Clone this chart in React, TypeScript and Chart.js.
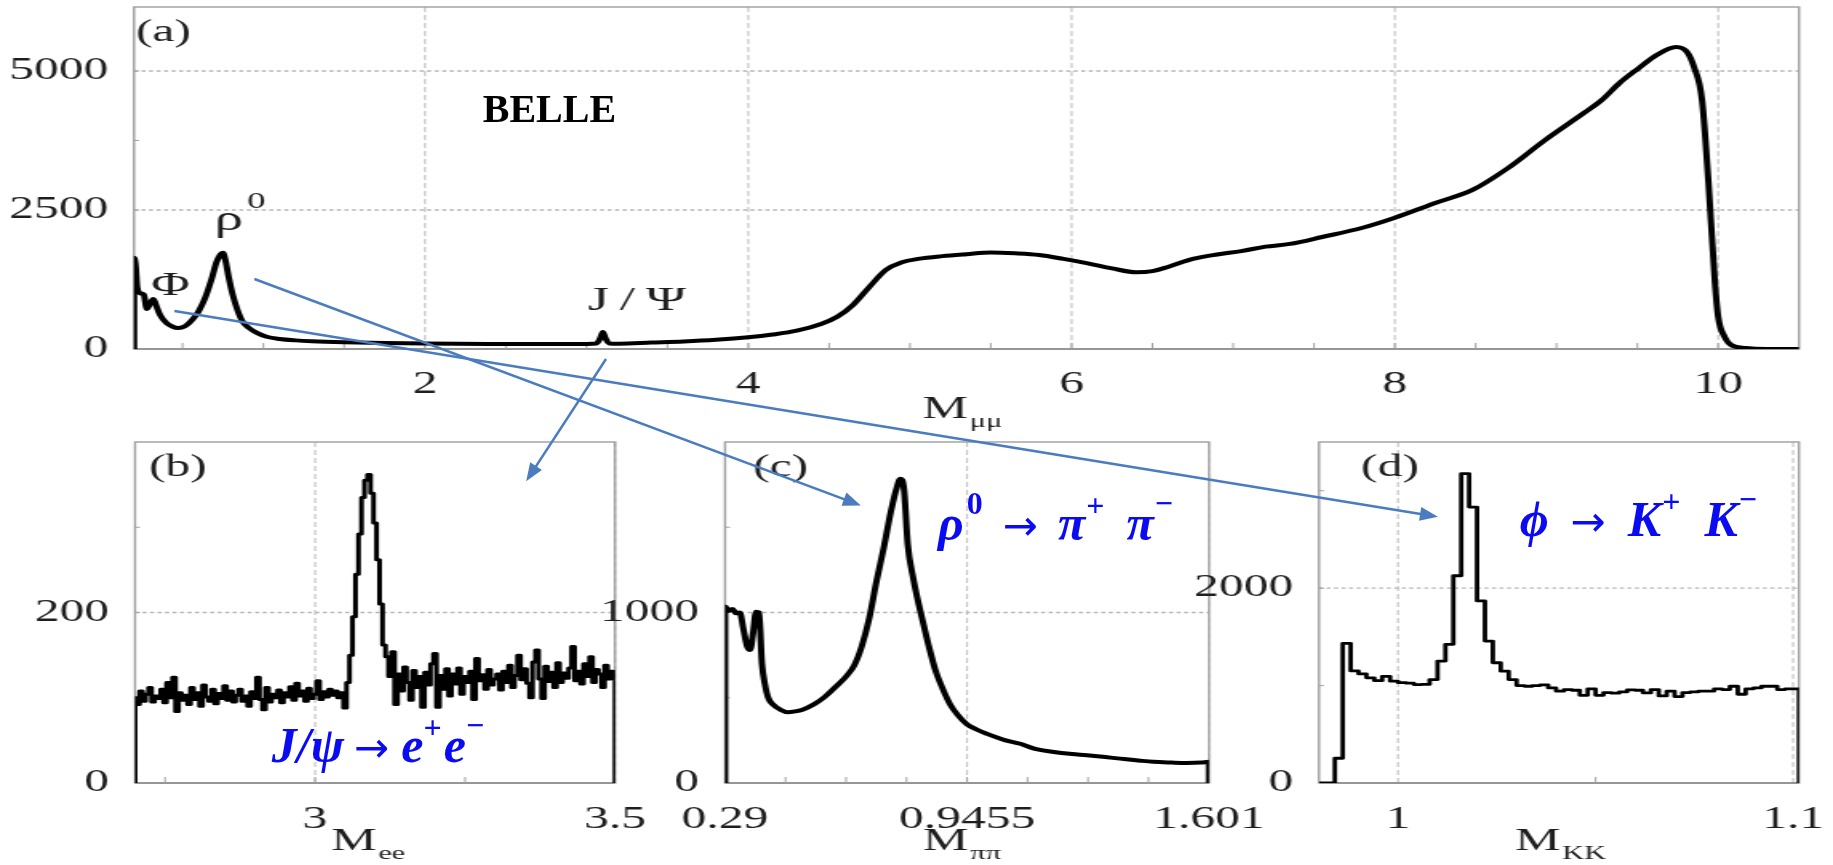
import React, { useEffect, useRef } from 'react';
import { Chart, registerables } from 'chart.js';

Chart.register(...registerables);

// ================= DATA =================
// Panel (a): M_mumu spectrum
const aMass = [0.2, 0.2, 0.21, 0.22, 0.24, 0.26, 0.28, 0.3, 0.32, 0.34, 0.36, 0.4, 0.44, 0.47, 0.5, 0.53, 0.56, 0.6, 0.64, 0.68, 0.71, 0.735, 0.75, 0.765, 0.785, 0.81, 0.84, 0.87, 0.91, 0.96, 1.02, 1.1, 1.2, 1.3, 1.5, 1.75, 2.0, 2.4, 2.8, 3.0, 3.06, 3.085, 3.1, 3.115, 3.14, 3.2, 3.4, 3.6, 3.8, 4.0, 4.15, 4.3, 4.45, 4.55, 4.65, 4.75, 4.85, 4.95, 5.05, 5.2, 5.35, 5.5, 5.65, 5.8, 5.95, 6.1, 6.25, 6.4, 6.5, 6.6, 6.75, 6.9, 7.05, 7.2, 7.35, 7.55, 7.8, 8.0, 8.25, 8.48, 8.7, 8.93, 9.17, 9.28, 9.39, 9.51, 9.62, 9.74, 9.81, 9.85, 9.9, 9.94, 9.98, 10.0, 10.04, 10.08, 10.17, 10.3, 10.5];
const aCounts = [0, 1640, 1500, 1100, 1000, 980, 720, 820, 900, 760, 620, 470, 400, 378, 390, 440, 525, 680, 920, 1260, 1560, 1700, 1730, 1600, 1300, 980, 700, 500, 380, 290, 220, 180, 155, 140, 122, 108, 100, 92, 90, 92, 100, 200, 305, 200, 100, 95, 115, 135, 165, 210, 260, 330, 450, 580, 800, 1120, 1420, 1560, 1620, 1670, 1705, 1735, 1720, 1690, 1620, 1540, 1450, 1380, 1400, 1480, 1620, 1700, 1760, 1840, 1890, 2014, 2180, 2360, 2626, 2860, 3255, 3759, 4245, 4478, 4784, 5054, 5288, 5430, 5330, 5072, 4478, 2986, 1187, 576, 216, 72, 18, 0, 0];

// Panel (b): M_ee histogram
const bFirstBin = 2.7;
const bBinWidth = 0.005;
const bCounts = [
  100, 92, 108, 96, 104, 112, 95, 102, 99, 110, 94, 118, 100, 124, 84, 106, 97, 103, 92, 112,
  98, 106, 90, 115, 101, 96, 110, 93, 105, 99, 114, 97, 108, 95, 103, 110, 96, 102, 90, 107,
  99, 124, 98, 86, 112, 95, 104, 100, 109, 94, 106, 101, 113, 97, 117, 102, 108, 96, 111, 99,
  104, 120, 98, 107, 101, 110, 103, 108, 100, 106, 88, 118, 150, 195, 245, 292, 335, 355, 362, 340,
  305, 262, 210, 162, 148, 125, 154, 92, 128, 108, 136, 118, 97, 132, 112, 125, 89, 130, 115, 140,
  152, 89, 126, 110, 134, 102, 128, 116, 135, 104, 125, 118, 131, 98, 146, 120, 127, 110, 133, 115,
  122, 128, 109, 131, 118, 138, 112, 126, 150, 121, 134, 117, 100, 142, 156, 122, 99, 137, 119, 130,
  112, 141, 118, 129, 123, 135, 160, 120, 131, 116, 140, 125, 148, 118, 133, 128, 112, 138, 122, 131,
  126
];

// Panel (c): M_pipi spectrum
const cMass = [0.29, 0.29, 0.3, 0.31, 0.32, 0.33, 0.34, 0.35, 0.358, 0.366, 0.374, 0.382, 0.39, 0.398, 0.407, 0.42, 0.44, 0.46, 0.48, 0.5, 0.53, 0.56, 0.59, 0.62, 0.64, 0.66, 0.68, 0.7, 0.72, 0.74, 0.755, 0.765, 0.775, 0.785, 0.8, 0.82, 0.84, 0.86, 0.88, 0.9, 0.92, 0.945, 0.97, 1.0, 1.05, 1.09, 1.13, 1.18, 1.23, 1.27, 1.32, 1.36, 1.41, 1.45, 1.5, 1.54, 1.58, 1.601, 1.601];
const cCounts = [0, 1035, 1010, 1020, 995, 1000, 900, 800, 780, 880, 1005, 1000, 700, 580, 500, 460, 430, 415, 420, 430, 460, 505, 565, 630, 690, 800, 960, 1180, 1380, 1600, 1730, 1785, 1720, 1400, 1200, 1000, 820, 660, 550, 460, 400, 345, 315, 288, 250, 230, 200, 182, 170, 163, 152, 143, 132, 124, 120, 118, 120, 124, 0];

// Panel (d): M_KK histogram
const dFirstBin = 0.98;
const dBinWidth = 0.002;
const dCounts = [
  0, 0, 0, 254, 1433, 1150, 1120, 1080, 1050, 1095, 1045, 1030, 1025, 1010, 1012, 1062, 1251, 1423, 2127, 3175,
  2832, 1869, 1457, 1234, 1148, 1062, 1000, 993, 1000, 1008, 976, 942, 959, 952, 900, 966, 900, 928, 922, 935,
  955, 952, 925, 959, 894, 942, 887, 928, 935, 942, 942, 966, 959, 993, 911, 966, 976, 993, 993, 959,
  966
];

// Tick values / labels
const aXLabelValues = [2, 4, 6, 8, 10];
const aXLabels = ['2', '4', '6', '8', '10'];
const aXTickMarks = [0.5, 1, 1.5, 2, 2.5, 3, 3.5, 4, 4.5, 5, 5.5, 6, 6.5, 7, 7.5, 8, 8.5, 9, 9.5, 10];
const aYLabelValues = [0, 2500, 5000];
const aYLabels = ['0', '2500', '5000'];
const aYTickMarks = [1250, 2500, 3750, 5000];

const bXLabelValues = [3, 3.5];
const bXLabels = ['3', '3.5'];
const bXTickMarks = [2.75, 3, 3.25];
const bYLabelValues = [0, 200];
const bYLabels = ['0', '200'];
const bYTickMarks = [100, 200, 300];

const cXLabelValues = [0.29, 0.9455, 1.601];
const cXLabels = ['0.29', '0.9455', '1.601'];
const cXTickMarks = [0.453875, 0.61775, 0.781625, 0.9455, 1.109375, 1.27325, 1.437125];
const cYLabelValues = [0, 1000];
const cYLabels = ['0', '1000'];
const cYTickMarks = [500, 1000, 1500];

const dXLabelValues = [1, 1.1];
const dXLabels = ['1', '1.1'];
const dXTickMarks = [1.05];
const dYLabelValues = [0, 2000];
const dYLabels = ['0', '2000'];
const dYTickMarks = [1000, 2000, 3000];

// ================= BUILD =================
const toPoints = (xs: number[], ys: number[]) => xs.map((x, i) => ({ x, y: ys[i] }));
const binPoints = (start: number, w: number, counts: number[], end: number) => {
  const pts = counts.map((c, i) => ({ x: start + i * w, y: c }));
  return [{ x: start, y: 0 }, ...pts, { x: end, y: counts[counts.length - 1] }, { x: end, y: 0 }];
};

const STRETCH = 1.6;
const SERIF = '"Liberation Serif", "Times New Roman", serif';

const PANELS: any[] = [
  {
    id: 'a', cssLeft: 0, cssTop: 0, cssW: 1833, cssH: 440,
    plotL: 134, plotR: 1799, plotT: 7, plotB: 349,
    xMin: 0.2, xMax: 10.5, yMin: 0, yMax: 6150,
    xLabelValues: aXLabelValues, xLabels: aXLabels, xTickMarks: aXTickMarks, xGrid: aXLabelValues,
    yLabelValues: aYLabelValues, yLabels: aYLabels, yTickMarks: aYTickMarks, yGrid: [2500, 5000],
    points: toPoints(aMass, aCounts), lw: 4, stepped: false, smooth: true,
    tag: '(a)', tagDx: 2, tagBase: 41, sub: 'μμ', titleBase: 418, xPad: 9,
    greek: [
      { t: 'Φ', x: 0.426, y: 971, size: 33 },
      { t: 'ρ', x: 0.785, y: 2140, size: 36 },
      { t: '0', x: 0.957, y: 2536, size: 23 },
      { t: 'J\u2009/\u2009Ψ', x: 3.31, y: 700, size: 34 },
    ],
  },
  {
    id: 'b', cssLeft: 0, cssTop: 430, cssW: 660, cssH: 435,
    plotL: 135, plotR: 615, plotT: 442, plotB: 783,
    xMin: 2.7, xMax: 3.5, yMin: 0, yMax: 400,
    xLabelValues: bXLabelValues, xLabels: bXLabels, xTickMarks: bXTickMarks, xGrid: [3, 3.5],
    yLabelValues: bYLabelValues, yLabels: bYLabels, yTickMarks: bYTickMarks, yGrid: [200],
    points: binPoints(bFirstBin, bBinWidth, bCounts, 3.5), lw: 3, stepped: 'middle',
    tag: '(b)', tagDx: 14, tagBase: 476, sub: 'ee', titleBase: 850, xPad: 10,
  },
  {
    id: 'c', cssLeft: 585, cssTop: 430, cssW: 695, cssH: 435,
    plotL: 725, plotR: 1209, plotT: 442, plotB: 783,
    xMin: 0.29, xMax: 1.601, yMin: 0, yMax: 2000,
    xLabelValues: cXLabelValues, xLabels: cXLabels, xTickMarks: cXTickMarks, xGrid: [0.9455, 1.601],
    yLabelValues: cYLabelValues, yLabels: cYLabels, yTickMarks: cYTickMarks, yGrid: [1000],
    points: toPoints(cMass, cCounts), lw: 4, stepped: false, smooth: true,
    tag: '(c)', tagDx: 28, tagBase: 476, sub: 'ππ', titleBase: 850, xPad: 10,
  },
  {
    id: 'd', cssLeft: 1180, cssTop: 430, cssW: 653, cssH: 435,
    plotL: 1319, plotR: 1799, plotT: 442, plotB: 783,
    xMin: 0.98, xMax: 1.1015, yMin: 0, yMax: 3500,
    xLabelValues: dXLabelValues, xLabels: dXLabels, xTickMarks: dXTickMarks, xGrid: [1, 1.1],
    yLabelValues: dYLabelValues, yLabels: dYLabels, yTickMarks: dYTickMarks, yGrid: [2000],
    points: binPoints(dFirstBin, dBinWidth, dCounts, 1.1015), lw: 2.8, stepped: 'after',
    tag: '(d)', tagDx: 42, tagBase: 476, sub: 'KK', titleBase: 850, xPad: 10,
  },
];

// Annotations (overlay, unstretched)
const BLUE_TXT = '#0b0bf2';
const ARROW_COL = '#4a7cbf';
const BI = `italic bold 50px ${SERIF}`;
const SUP = `bold 32px ${SERIF}`;
const ARW = '42px "DejaVu Sans", sans-serif';

const ARROWS = [
  { from: ['a', 0.945, 1259], to: ['c', 0.658, 1628] },
  { from: ['a', 0.45, 683], to: ['d', 1.0101, 2732] },
  { from: ['a', 3.12, -180], to: ['b', 3.352, 354] },
];

const BLUE_LABELS = [
  {
    panel: 'b', x: 2.928, y: 24.6,
    parts: [
      { t: 'J/ψ', font: BI }, { t: '→', font: ARW, gap: 10 }, { t: 'e', font: BI, gap: 12 },
      { t: '+', font: SUP, rise: 24 }, { t: 'e', font: BI, gap: 2 }, { t: '−', font: SUP, rise: 26 },
    ],
  },
  {
    panel: 'c', x: 0.867, y: 1424,
    parts: [
      { t: 'ρ', font: BI }, { t: '0', font: SUP, rise: 26, gap: 3 }, { t: '→', font: ARW, gap: 20 },
      { t: 'π', font: BI, gap: 20 }, { t: '+', font: SUP, rise: 24, gap: 1 }, { t: 'π', font: BI, gap: 22 },
      { t: '−', font: SUP, rise: 26, gap: 1 },
    ],
  },
  {
    panel: 'd', x: 1.0308, y: 2536,
    parts: [
      { t: 'ϕ', font: BI }, { t: '→', font: ARW, gap: 22 }, { t: 'K', font: BI, gap: 22 },
      { t: '+', font: SUP, rise: 24, gap: 1 }, { t: 'K', font: BI, gap: 24 }, { t: '−', font: SUP, rise: 26, gap: 1 },
    ],
  },
];

function panelPlugin(p: any, s: number) {
  return {
    id: 'panel_' + p.id,
    beforeDatasetsDraw(chart: any) {
      const { ctx, chartArea: ca } = chart;
      const x = chart.scales.x;
      const y = chart.scales.y;
      ctx.save();
      // vertical dashed grid
      ctx.strokeStyle = '#c6c6c6';
      ctx.lineWidth = 1.2;
      ctx.setLineDash([5, 3]);
      for (const v of p.xGrid) {
        const px = x.getPixelForValue(v);
        ctx.beginPath(); ctx.moveTo(px, ca.top); ctx.lineTo(px, ca.bottom); ctx.stroke();
      }
      // horizontal dotted grid
      ctx.strokeStyle = '#b2b2b2';
      ctx.lineWidth = 1.4;
      ctx.setLineDash([2.5, 2.2]);
      for (const v of p.yGrid) {
        const py = y.getPixelForValue(v);
        ctx.beginPath(); ctx.moveTo(ca.left, py); ctx.lineTo(ca.right, py); ctx.stroke();
      }
      ctx.setLineDash([]);
      // frame
      ctx.strokeStyle = '#9e9e9e';
      ctx.lineWidth = 1.4;
      ctx.strokeRect(ca.left, ca.top, ca.right - ca.left, ca.bottom - ca.top);
      // bottom axis darker
      ctx.strokeStyle = '#8a8a8a';
      ctx.beginPath(); ctx.moveTo(ca.left, ca.bottom); ctx.lineTo(ca.right, ca.bottom); ctx.stroke();
      // tick marks (inside)
      ctx.strokeStyle = '#a0a0a0';
      ctx.lineWidth = 1;
      for (const v of p.xTickMarks) {
        const px = x.getPixelForValue(v);
        ctx.beginPath(); ctx.moveTo(px, ca.bottom); ctx.lineTo(px, ca.bottom - 6); ctx.stroke();
      }
      for (const v of p.yTickMarks) {
        const py = y.getPixelForValue(v);
        ctx.beginPath(); ctx.moveTo(ca.left, py); ctx.lineTo(ca.left + 5 / s, py); ctx.stroke();
      }
      ctx.restore();
    },
    afterDatasetsDraw(chart: any) {
      const { ctx, chartArea: ca } = chart;
      const x = chart.scales.x;
      const y = chart.scales.y;
      ctx.save();
      ctx.fillStyle = '#1e1e1e';
      ctx.textBaseline = 'alphabetic';
      // panel tag
      ctx.font = `31px ${SERIF}`;
      ctx.textAlign = 'left';
      ctx.fillText(p.tag, ca.left + p.tagDx / s, p.tagBase - p.cssTop);
      // axis title M_sub
      const cx = (ca.left + ca.right) / 2;
      ctx.font = `32px ${SERIF}`;
      ctx.textAlign = 'right';
      ctx.fillText('M', cx + 1, p.titleBase - p.cssTop);
      ctx.font = `19px ${SERIF}`;
      ctx.textAlign = 'left';
      ctx.fillText(p.sub, cx + 2, p.titleBase - p.cssTop + 9);
      // greek annotations
      if (p.greek) {
        ctx.textAlign = 'center';
        for (const g of p.greek) {
          ctx.font = `${g.size}px ${SERIF}`;
          ctx.fillText(g.t, x.getPixelForValue(g.x), y.getPixelForValue(g.y));
        }
      }
      ctx.restore();
    },
  };
}

function makeChart(canvas: HTMLCanvasElement, p: any) {
  const attrW = Math.round(p.cssW / STRETCH);
  const s = p.cssW / attrW;
  canvas.width = attrW;
  canvas.height = p.cssH;
  const yAxisW = (p.plotL - p.cssLeft) / s;
  const padRight = (p.cssLeft + p.cssW - p.plotR) / s;
  const padTop = p.plotT - p.cssTop;
  const xAxisH = p.cssTop + p.cssH - p.plotB;
  const tickFont = { family: SERIF, size: 31 };
  const ds: any = {
    data: p.points,
    borderColor: '#000',
    borderWidth: p.lw,
    pointRadius: 0,
    fill: false,
    stepped: p.stepped,
    borderJoinStyle: 'round',
  };
  if (p.smooth) ds.cubicInterpolationMode = 'monotone';
  else ds.tension = 0;
  const chart = new Chart(canvas, {
    type: 'line',
    data: { datasets: [ds] },
    options: {
      animation: false,
      responsive: false,
      maintainAspectRatio: false,
      devicePixelRatio: 1,
      events: [],
      layout: { autoPadding: false, padding: { top: padTop, right: padRight, left: 0, bottom: 0 } },
      plugins: { legend: { display: false }, tooltip: { enabled: false }, title: { display: false } },
      scales: {
        x: {
          type: 'linear', min: p.xMin, max: p.xMax,
          grid: { display: false }, border: { display: false },
          afterBuildTicks: (sc: any) => { sc.ticks = p.xLabelValues.map((v: number) => ({ value: v })); },
          afterFit: (sc: any) => { sc.height = xAxisH; sc.paddingLeft = 0; sc.paddingRight = 0; },
          ticks: {
            autoSkip: false, maxRotation: 0, minRotation: 0, padding: p.xPad, color: '#1e1e1e', font: tickFont,
            callback: (_v: any, i: number) => p.xLabels[i],
          },
        },
        y: {
          type: 'linear', min: p.yMin, max: p.yMax,
          grid: { display: false }, border: { display: false },
          afterBuildTicks: (sc: any) => { sc.ticks = p.yLabelValues.map((v: number) => ({ value: v })); },
          afterFit: (sc: any) => { sc.width = yAxisW; sc.paddingTop = 0; sc.paddingBottom = 0; },
          ticks: {
            autoSkip: false, padding: 13 / s, color: '#1e1e1e', font: tickFont,
            callback: (_v: any, i: number) => p.yLabels[i],
          },
        },
      },
    },
    plugins: [panelPlugin(p, s)],
  } as any);
  return { chart, p, s };
}

function drawArrow(ctx: CanvasRenderingContext2D, x1: number, y1: number, x2: number, y2: number) {
  const len = Math.hypot(x2 - x1, y2 - y1);
  const ux = (x2 - x1) / len;
  const uy = (y2 - y1) / len;
  const head = 18;
  const hw = 7;
  const bx = x2 - ux * head;
  const by = y2 - uy * head;
  ctx.strokeStyle = ARROW_COL;
  ctx.fillStyle = ARROW_COL;
  ctx.lineWidth = 2.5;
  ctx.beginPath(); ctx.moveTo(x1, y1); ctx.lineTo(bx + ux * 2, by + uy * 2); ctx.stroke();
  ctx.beginPath();
  ctx.moveTo(x2, y2);
  ctx.lineTo(bx - uy * hw, by + ux * hw);
  ctx.lineTo(bx + uy * hw, by - ux * hw);
  ctx.closePath();
  ctx.fill();
}

function drawRich(ctx: CanvasRenderingContext2D, parts: any[], x0: number, y0: number) {
  let x = x0;
  for (const pt of parts) {
    x += pt.gap || 0;
    ctx.font = pt.font;
    ctx.fillText(pt.t, x, y0 - (pt.rise || 0));
    x += ctx.measureText(pt.t).width;
  }
}

export default function App() {
  const canvasRefs = useRef<(HTMLCanvasElement | null)[]>([]);
  const overlayRef = useRef<HTMLCanvasElement | null>(null);

  useEffect(() => {
    const made: Record<string, any> = {};
    PANELS.forEach((p, i) => {
      const cv = canvasRefs.current[i];
      if (cv) made[p.id] = makeChart(cv, p);
    });
    const ov = overlayRef.current;
    if (ov) {
      const ctx = ov.getContext('2d')!;
      ctx.clearRect(0, 0, ov.width, ov.height);
      const P = (id: string, xv: number, yv: number) => {
        const m = made[id];
        return [m.p.cssLeft + m.chart.scales.x.getPixelForValue(xv) * m.s, m.p.cssTop + m.chart.scales.y.getPixelForValue(yv)];
      };
      // BELLE
      ctx.fillStyle = '#000';
      ctx.font = `bold 40px ${SERIF}`;
      ctx.textAlign = 'center';
      ctx.textBaseline = 'alphabetic';
      const [bx, by] = P('a', 2.77, 4083);
      ctx.fillText('BELLE', bx, by);
      // arrows
      for (const ar of ARROWS) {
        const [x1, y1] = P(ar.from[0] as string, ar.from[1] as number, ar.from[2] as number);
        const [x2, y2] = P(ar.to[0] as string, ar.to[1] as number, ar.to[2] as number);
        drawArrow(ctx, x1, y1, x2, y2);
      }
      // blue labels
      ctx.fillStyle = BLUE_TXT;
      ctx.textAlign = 'left';
      for (const bl of BLUE_LABELS) {
        const [lx, ly] = P(bl.panel, bl.x, bl.y);
        drawRich(ctx, bl.parts, lx, ly);
      }
    }
    return () => {
      Object.values(made).forEach((m: any) => m.chart.destroy());
    };
  }, []);

  return (
    <div style={{ position: 'absolute', left: 0, top: 0, width: 1833, height: 865, overflow: 'hidden', background: '#fff' }}>
      {PANELS.map((p, i) => (
        <canvas
          key={p.id}
          ref={(el) => { canvasRefs.current[i] = el; }}
          width={Math.round(p.cssW / STRETCH)}
          height={p.cssH}
          style={{ position: 'absolute', left: p.cssLeft, top: p.cssTop, width: p.cssW, height: p.cssH }}
        />
      ))}
      <canvas
        ref={overlayRef}
        width={1833}
        height={865}
        style={{ position: 'absolute', left: 0, top: 0, width: 1833, height: 865, pointerEvents: 'none' }}
      />
    </div>
  );
}
